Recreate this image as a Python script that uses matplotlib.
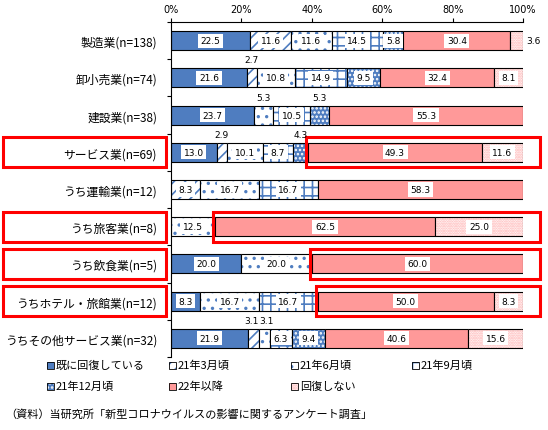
import numpy as np
import matplotlib.pyplot as plt
from matplotlib.patches import Rectangle

plt.rcParams['font.family'] = ['Noto Sans CJK JP', 'DejaVu Sans']
plt.rcParams['hatch.linewidth'] = 1.2

categories = ['製造業(n=138)', '卸小売業(n=74)', '建設業(n=38)', 'サービス業(n=69)',
              'うち運輸業(n=12)', 'うち旅客業(n=8)', 'うち飲食業(n=5)',
              'うちホテル・旅館業(n=12)', 'うちその他サービス業(n=32)']
series_names = ['既に回復している', '21年3月頃', '21年6月頃', '21年9月頃',
                '21年12月頃', '22年以降', '回復しない']
already = [22.5, 21.6, 23.7, 13.0, 0, 0, 20.0, 8.3, 21.9]
mar21 = [11.6, 2.7, 0, 2.9, 8.3, 0, 0, 0, 3.1]
jun21 = [11.6, 10.8, 5.3, 10.1, 16.7, 12.5, 20.0, 16.7, 3.1]
sep21 = [14.5, 14.9, 10.5, 8.7, 16.7, 0, 0, 16.7, 6.3]
dec21 = [5.8, 9.5, 5.3, 4.3, 0, 0, 0, 0, 9.4]
after22 = [30.4, 32.4, 55.3, 49.3, 58.3, 62.5, 60.0, 50.0, 40.6]
never = [3.6, 8.1, 0, 11.6, 0, 25.0, 0, 8.3, 15.6]
highlight = [3, 5, 6, 7]
xticks = [0, 20, 40, 60, 80, 100]

BLUE = '#4F7DC0'
PINK = '#FF9999'
series = [already, mar21, jun21, sep21, dec21, after22, never]
styles = [(BLUE, None, BLUE), ('white', '///', BLUE), ('white', '..', BLUE),
          ('white', '++', BLUE), (BLUE, '....', 'white'), (PINK, None, PINK),
          ('white', '.......', '#FFB0B0')]

W, H = 548, 431
fig = plt.figure(figsize=(W / 100, H / 100), dpi=100)
ax = fig.add_axes([171 / W, 1 - 358 / H, 352 / W, 335 / H])

y = np.arange(len(categories))
bh = 0.51
left = np.zeros(len(categories))
lefts = []
for vals, (fc, hatch, hc) in zip(series, styles):
    v = np.array(vals, dtype=float)
    m = v > 0
    ax.barh(y[m], v[m], left=left[m], height=bh, color=fc, edgecolor=hc,
            hatch=hatch, linewidth=0)
    ax.barh(y[m], v[m], left=left[m], height=bh, fill=False,
            edgecolor='black', linewidth=0.8)
    lefts.append(left.copy())
    left = left + v

# value labels
for i in range(len(categories)):
    above = []
    for k, vals in enumerate(series):
        v = vals[i]
        if v <= 0:
            continue
        cx = lefts[k][i] + v / 2
        if v >= 5.5:
            ax.text(cx, i, f'{v:.1f}', ha='center', va='center', fontsize=6.5,
                    family='DejaVu Sans',
                    bbox=dict(facecolor='white', edgecolor='none', pad=1.8))
        elif k == len(series) - 1:
            ax.text(lefts[k][i] + v + 1.0, i, f'{v:.1f}', ha='left', va='center',
                    fontsize=6.5, family='DejaVu Sans')
        else:
            above.append([cx, v])
    for j in range(1, len(above)):
        gap = above[j][0] - above[j - 1][0]
        if gap < 4.5:
            d = (4.5 - gap) / 2
            above[j - 1][0] -= d
            above[j][0] += d
    for cx, v in above:
        ax.text(cx, i - 0.48, f'{v:.1f}', ha='center', va='center',
                fontsize=6.5, family='DejaVu Sans')

ax.set_xlim(0, 100)
ax.set_ylim(len(categories) - 0.5, -0.5)
ax.xaxis.tick_top()
ax.set_xticks(xticks)
ax.set_xticklabels([f'{t}%' for t in xticks], fontsize=7, family='DejaVu Sans')
ax.tick_params(axis='x', length=3, width=0.8, pad=3)
ax.set_yticks(np.arange(-0.5, len(categories), 1))
ax.set_yticklabels([])
ax.set_yticks(y, minor=True)
ax.set_yticklabels(categories, minor=True, fontsize=8.5)
ax.tick_params(axis='y', which='major', length=3, width=0.8)
ax.tick_params(axis='y', which='minor', length=0, pad=10)
for s in ['right', 'bottom']:
    ax.spines[s].set_visible(False)
for s in ['left', 'top']:
    ax.spines[s].set_linewidth(0.8)

# red highlight frames
for i in highlight:
    start = lefts[5][i] - 0.6
    ax.add_patch(Rectangle((start, i - 0.40), 104.8 - start, 0.80, fill=False,
                           edgecolor='red', linewidth=2.2, clip_on=False))
    ax.add_patch(Rectangle((-0.477, i - 0.40), 0.463, 0.80, fill=False,
                           edgecolor='red', linewidth=2.2, clip_on=False,
                           transform=ax.get_yaxis_transform()))

# legend
leg_x = [47, 169, 291, 412]
leg_y = [366, 387]
for k, (name, (fc, hatch, hc)) in enumerate(zip(series_names, styles)):
    px = leg_x[k % 4]
    py = leg_y[k // 4]
    fig.add_artist(Rectangle((px / W, 1 - (py + 3.5) / H), 7 / W, 7 / H,
                             facecolor=fc, edgecolor=hc, hatch=hatch,
                             linewidth=0, transform=fig.transFigure))
    fig.add_artist(Rectangle((px / W, 1 - (py + 3.5) / H), 7 / W, 7 / H,
                             fill=False, edgecolor='black', linewidth=0.6,
                             transform=fig.transFigure))
    fig.text((px + 9) / W, 1 - py / H, name, fontsize=8, va='center', ha='left')

fig.text(5 / W, 1 - 415 / H, '（資料）当研究所「新型コロナウイルスの影響に関するアンケート調査」',
         fontsize=8, va='center', ha='left')

fig.savefig('out.png', dpi=100)
